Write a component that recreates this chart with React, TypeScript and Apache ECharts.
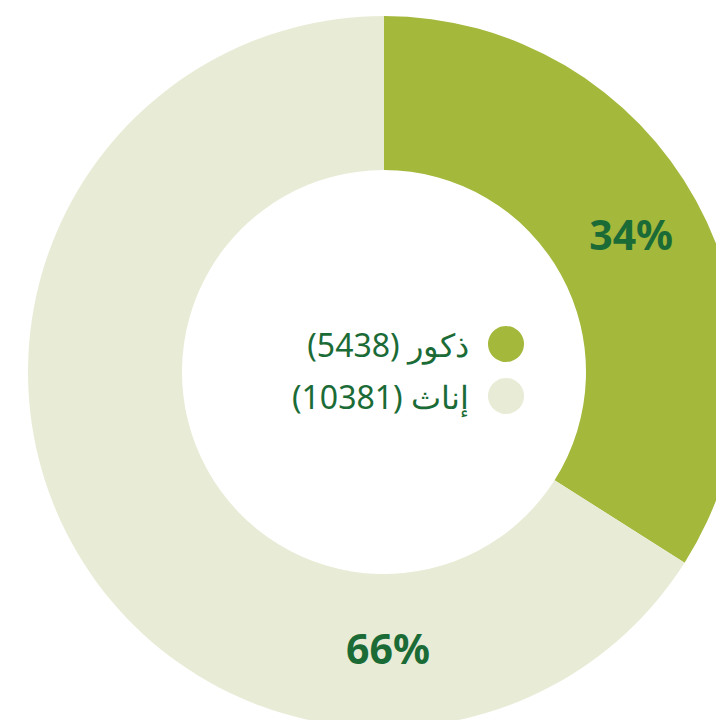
import React, { useEffect, useRef } from "react";
import * as echarts from "echarts";

const categories = ["ذكور", "إناث"];
const counts = [5438, 10381];
const shares = [34, 66];
const colors = ["#a4b83c", "#e8ecd6"];
const TEXT = "#1b6b37";
const RLM = "\u200F";

export default function App() {
  const ref = useRef<HTMLDivElement>(null);
  useEffect(() => {
    document.body.style.margin = "0";
    const chart = echarts.init(ref.current!, null, { renderer: "svg" });
    const cx = 384, cy = 372, r0 = 202, r1 = 356;
    const mid = (r0 + r1) / 2;
    const countMap: Record<string, number> = {};
    categories.forEach((c, i) => (countMap[c] = counts[i]));
    chart.setOption({
      animation: false,
      backgroundColor: "#ffffff",
      legend: {
        orient: "vertical",
        align: "right",
        right: 716 - 524 - 5,
        top: 321,
        icon: "circle",
        itemWidth: 36,
        itemHeight: 36,
        itemGap: 16,
        data: categories,
        formatter: (name: string) => `${RLM}${name} (${countMap[name]})${RLM}`,
        textStyle: {
          fontFamily: "Noto Sans",
          fontSize: 32,
          lineHeight: 36,
          color: TEXT,
          padding: [0, 14, 0, 0],
        },
      },
      series: [
        {
          type: "pie",
          center: [cx, cy],
          radius: [r0, r1],
          startAngle: 90,
          clockwise: true,
          data: categories.map((c, i) => ({
            name: c,
            value: shares[i],
            itemStyle: { color: colors[i] },
          })),
          label: {
            show: true,
            position: "inside",
            formatter: (p: any) => `${Math.round(p.percent)}%`,
            fontFamily: "Noto Sans",
            fontWeight: "bold",
            fontSize: 41,
            color: TEXT,
          },
          labelLayout: (p: any) =>
            p.dataIndex === 1
              ? { x: cx + 4, y: cy + mid - 3, align: "center", verticalAlign: "middle" }
              : { dy: -2 },
          labelLine: { show: false },
          emphasis: { disabled: true },
        },
      ],
    });
    return () => chart.dispose();
  }, []);
  return <div ref={ref} style={{ width: 716, height: 720 }} />;
}
